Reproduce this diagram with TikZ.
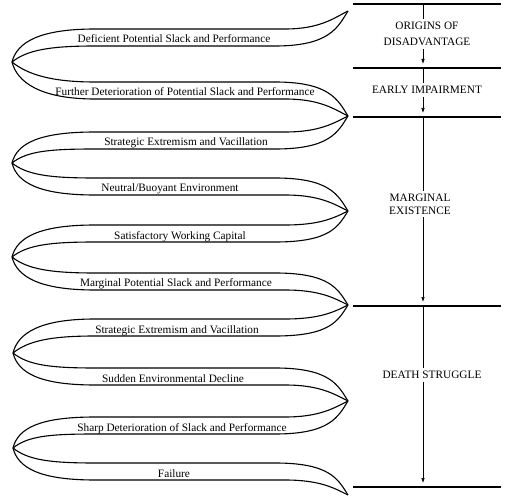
\documentclass[tikz,border=0pt]{standalone}
\usepackage{fontspec}
\setmainfont{Liberation Serif}
\usetikzlibrary{arrows.meta}
\newdimen\unitsize
\setlength{\unitsize}{1pt}

\begin{document}
\begin{tikzpicture}[x=\unitsize,y=-\unitsize]
\tikzset{ribbon/.style={line width=1.1pt}}%
\tikzset{band/.style={anchor=base,inner sep=0pt,font=\fontsize{11.3}{13}\selectfont}}%
\tikzset{stage/.style={align=center,inner sep=3pt,font=\fontsize{11.3}{13}\selectfont}}%
\tikzset{rule/.style={line width=1.6pt}}%
\tikzset{flow/.style={line width=0.6pt}}%
\tikzset{flowarrow/.style={flow,-{Latex[length=5pt,width=3.5pt]},shorten >=4pt}}%
\useasboundingbox (0,0) rectangle (515,503);
% turning points of the ribbon
\coordinate (r0) at (348,11);
\coordinate (l1) at (12,62);
\coordinate (r2) at (348,116);
\coordinate (l3) at (12,163);
\coordinate (r4) at (348,211);
\coordinate (l5) at (12,257);
\coordinate (r6) at (348,305);
\coordinate (l7) at (13,353);
\coordinate (r8) at (348,401);
\coordinate (l9) at (13,448);
\coordinate (r10) at (348,495);
% strip 1
\draw[ribbon] (l1) .. controls +(5,-20) and +(-55,0) .. (95,29) -- (285,29) .. controls +(35,0) and +(-14,7) .. (r0);
\draw[ribbon] (l1) .. controls +(15,-12) and +(-45,0) .. (95,46) -- (275,46) .. controls +(55,0) and +(-10,16) .. (r0);
% strip 2
\draw[ribbon] (l1) .. controls +(15,12) and +(-45,0) .. (95,82) -- (275,82) .. controls +(55,0) and +(-10,-16) .. (r2);
\draw[ribbon] (l1) .. controls +(5,20) and +(-55,0) .. (95,99) -- (285,99) .. controls +(35,0) and +(-14,-7) .. (r2);
% strip 3
\draw[ribbon] (l3) .. controls +(5,-20) and +(-55,0) .. (95,132) -- (285,132) .. controls +(35,0) and +(-14,7) .. (r2);
\draw[ribbon] (l3) .. controls +(15,-12) and +(-45,0) .. (95,149) -- (275,149) .. controls +(55,0) and +(-10,16) .. (r2);
% strip 4
\draw[ribbon] (l3) .. controls +(15,12) and +(-45,0) .. (95,178) -- (275,178) .. controls +(55,0) and +(-10,-16) .. (r4);
\draw[ribbon] (l3) .. controls +(5,20) and +(-55,0) .. (95,195) -- (285,195) .. controls +(35,0) and +(-14,-7) .. (r4);
% strip 5
\draw[ribbon] (l5) .. controls +(5,-20) and +(-55,0) .. (95,225) -- (285,225) .. controls +(35,0) and +(-14,7) .. (r4);
\draw[ribbon] (l5) .. controls +(15,-12) and +(-45,0) .. (95,242) -- (275,242) .. controls +(55,0) and +(-10,16) .. (r4);
% strip 6
\draw[ribbon] (l5) .. controls +(15,12) and +(-45,0) .. (95,273) -- (275,273) .. controls +(55,0) and +(-10,-16) .. (r6);
\draw[ribbon] (l5) .. controls +(5,20) and +(-55,0) .. (95,290) -- (285,290) .. controls +(35,0) and +(-14,-7) .. (r6);
% strip 7
\draw[ribbon] (l7) .. controls +(5,-20) and +(-55,0) .. (95,319) -- (285,319) .. controls +(35,0) and +(-14,7) .. (r6);
\draw[ribbon] (l7) .. controls +(15,-12) and +(-45,0) .. (95,336) -- (275,336) .. controls +(55,0) and +(-10,16) .. (r6);
% strip 8
\draw[ribbon] (l7) .. controls +(15,12) and +(-45,0) .. (95,368) -- (275,368) .. controls +(55,0) and +(-10,-16) .. (r8);
\draw[ribbon] (l7) .. controls +(5,20) and +(-55,0) .. (95,385) -- (285,385) .. controls +(35,0) and +(-14,-7) .. (r8);
% strip 9
\draw[ribbon] (l9) .. controls +(5,-20) and +(-55,0) .. (95,417) -- (285,417) .. controls +(35,0) and +(-14,7) .. (r8);
\draw[ribbon] (l9) .. controls +(15,-12) and +(-45,0) .. (95,434) -- (275,434) .. controls +(55,0) and +(-10,16) .. (r8);
% strip 10
\draw[ribbon] (l9) .. controls +(15,12) and +(-45,0) .. (95,463) -- (275,463) .. controls +(55,0) and +(-10,-16) .. (r10);
\draw[ribbon] (l9) .. controls +(5,20) and +(-55,0) .. (95,480) -- (285,480) .. controls +(35,0) and +(-14,-7) .. (r10);
% texts on the ribbon
\node[band] (deficient) at (174,43) {Deficient Potential Slack and Performance};
\node[band] (further) at (185,96) {Further Deterioration of Potential Slack and Performance};
\node[band] (extremism) at (186,146) {Strategic Extremism and Vacillation};
\node[band] (buoyant) at (170,192) {Neutral/Buoyant Environment};
\node[band] (capital) at (180,239) {Satisfactory Working Capital};
\node[band] (marginal) at (176,287) {Marginal Potential Slack and Performance};
\node[band] (extremismb) at (177,333) {Strategic Extremism and Vacillation};
\node[band] (decline) at (173,382) {Sudden Environmental Decline};
\node[band] (sharp) at (182,431) {Sharp Deterioration of Slack and Performance};
\node[band] (failure) at (174,477) {Failure};
% stages
\draw[rule] (353,4) -- (501,4);
\draw[rule] (353,68) -- (501,68);
\draw[rule] (353,117) -- (501,117);
\draw[rule] (353,306) -- (501,306);
\draw[rule] (353,487) -- (501,487);
\coordinate (a0) at (423,4);
\coordinate (a1) at (423,68);
\coordinate (a2) at (423,117);
\coordinate (a3) at (423,306);
\coordinate (a4) at (423,487);
\node[stage] (origins) at (427,34) {ORIGINS OF\\[3pt]DISADVANTAGE};
\node[stage] (early) at (427,90) {EARLY IMPAIRMENT};
\node[stage] (existence) at (420,204) {MARGINAL\\EXISTENCE};
\node[stage] (death) at (432,375) {DEATH STRUGGLE};
\draw[flow] (a0) -- (a0 |- origins.north);
\draw[flowarrow] (a0 |- origins.south) -- (a1);
\draw[flow] (a1) -- (a1 |- early.north);
\draw[flowarrow] (a1 |- early.south) -- (a2);
\draw[flow] (a2) -- (a2 |- existence.north);
\draw[flowarrow] (a2 |- existence.south) -- (a3);
\draw[flow] (a3) -- (a3 |- death.north);
\draw[flowarrow] (a3 |- death.south) -- (a4);
\end{tikzpicture}
\end{document}
